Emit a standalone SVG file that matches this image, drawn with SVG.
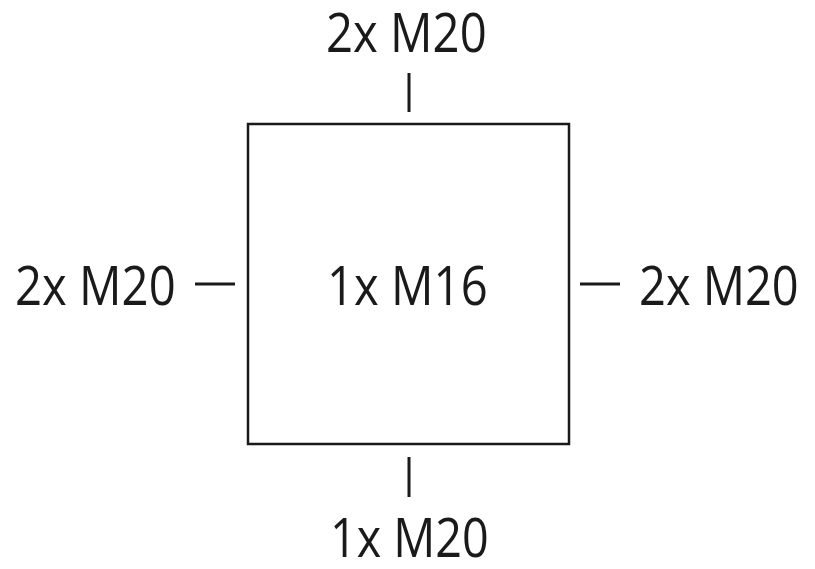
<svg xmlns="http://www.w3.org/2000/svg" width="815" height="569" viewBox="0 0 815 569">
<style>
.t{font-family:"Open Sans","Noto Sans",sans-serif;font-size:55px;fill:#1a1a1a}
.l{stroke:#1a1a1a;stroke-width:3;fill:none}
</style>
<rect width="815" height="569" fill="#fff"/>
<g id="box">
<rect x="248" y="124" width="321" height="320" fill="none" stroke="#1a1a1a" stroke-width="2.5"/>
<text class="t" transform="translate(327,305) scale(0.86,1)">1x M16</text>
</g>
<g id="top"><text class="t" transform="translate(326,52) scale(0.86,1)">2x M20</text></g>
<g id="left"><text class="t" transform="translate(15,305) scale(0.86,1)">2x M20</text></g>
<g id="right"><text class="t" transform="translate(639,305) scale(0.855,1)">2x M20</text></g>
<g id="bottom"><text class="t" transform="translate(330,557) scale(0.85,1)">1x M20</text></g>
<g id="connectors">
<line class="l" x1="409" y1="73" x2="409" y2="112"/>
<line class="l" x1="409" y1="457" x2="409" y2="497"/>
<line class="l" x1="195" y1="284" x2="235" y2="284"/>
<line class="l" x1="580" y1="284" x2="620" y2="284"/>
</g>
</svg>
